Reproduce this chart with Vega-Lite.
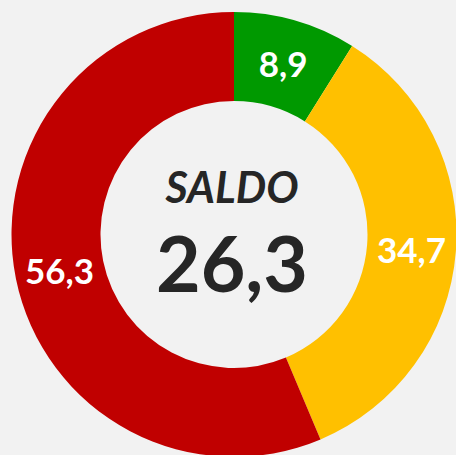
{
  "$schema": "https://vega.github.io/schema/vega-lite/v6.json",
  "width": 468,
  "height": 469,
  "autosize": "none",
  "padding": 0,
  "background": "#f2f2f2",
  "config": {
    "view": {"stroke": null},
    "locale": {"number": {"decimal": ",", "thousands": ".", "grouping": [3], "currency": ["", " €"]}}
  },
  "layer": [
    {
      "data": {"values": [
        {"categoria": "Positivo", "orden": 1, "valor": 8.9},
        {"categoria": "Neutral", "orden": 2, "valor": 34.7},
        {"categoria": "Negativo", "orden": 3, "valor": 56.3}
      ]},
      "layer": [
        {
          "mark": {"type": "arc", "innerRadius": 133.5, "outerRadius": 222.5},
          "encoding": {
            "theta": {"field": "valor", "type": "quantitative", "stack": true},
            "order": {"field": "orden", "type": "quantitative"},
            "color": {
              "field": "categoria", "type": "nominal", "legend": null,
              "scale": {"domain": ["Positivo", "Neutral", "Negativo"], "range": ["#009900", "#ffc000", "#c00000"]}
            }
          }
        },
        {
          "mark": {"type": "text", "radius": 178, "font": "Lato", "fontWeight": "bold", "fontSize": 35, "fill": "white", "baseline": "middle", "align": "center", "dy": 3},
          "encoding": {
            "theta": {"field": "valor", "type": "quantitative", "stack": true},
            "order": {"field": "orden", "type": "quantitative"},
            "text": {"field": "valor", "type": "quantitative", "format": ".1f"}
          }
        }
      ]
    },
    {
      "data": {"values": [{"titulo": "SALDO"}]},
      "mark": {"type": "text", "font": "Lato", "fontWeight": "bold", "fontStyle": "italic", "fontSize": 43, "fill": "#262626", "baseline": "alphabetic", "align": "center", "dy": -31.5, "dx": -2},
      "encoding": {"text": {"field": "titulo", "type": "nominal"}}
    },
    {
      "data": {"values": [{"saldo": 26.3}]},
      "mark": {"type": "text", "font": "Lato", "fontWeight": "bold", "fontSize": 77, "fill": "#262626", "baseline": "alphabetic", "align": "center", "dy": 57.5, "dx": -2},
      "encoding": {"text": {"field": "saldo", "type": "quantitative", "format": ".1f"}}
    }
  ]
}
